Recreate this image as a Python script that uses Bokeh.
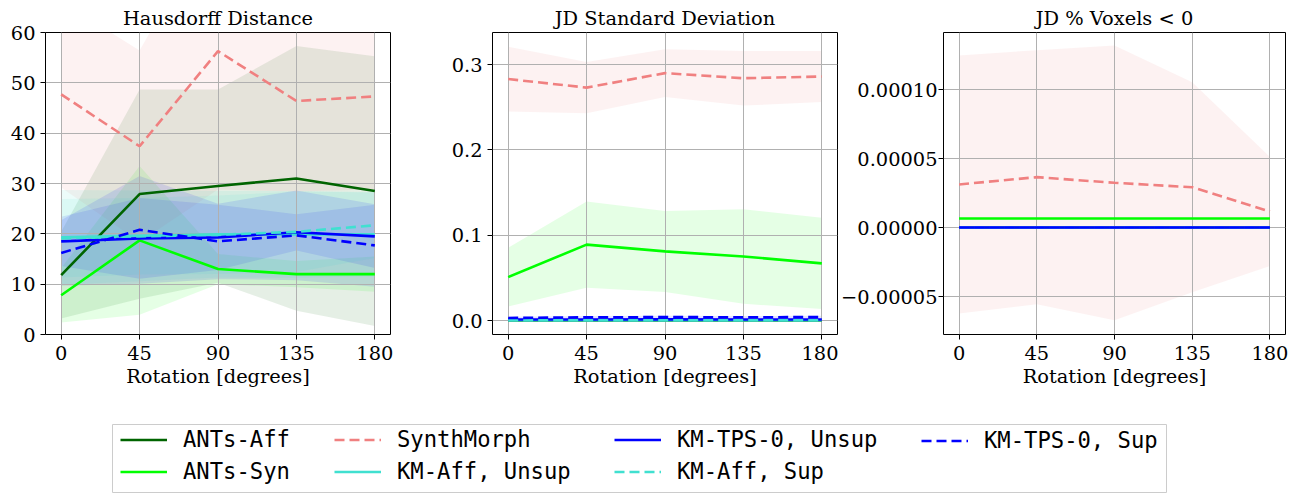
from bokeh.plotting import figure
from bokeh.models import Range1d, FixedTicker, CustomJSTickFormatter, Legend, LegendItem
from bokeh.layouts import row, column
from bokeh.embed import file_html
from bokeh.resources import INLINE

# ---------------- data ----------------
angles = [0, 45, 90, 135, 180]
x_ticks = [0, 45, 90, 135, 180]

labels = ["ANTs-Aff", "ANTs-Syn", "SynthMorph", "KM-Aff, Unsup",
          "KM-TPS-0, Unsup", "KM-Aff, Sup", "KM-TPS-0, Sup"]
colors = ["#006400", "#00ff00", "#f08080", "#40e0d0", "#0000ff", "#40e0d0", "#0000ff"]
dashed = [False, False, True, False, False, True, True]

# Hausdorff distance (mean, std)
hd_ants_aff = [11.8, 27.9, 29.5, 31.0, 28.5]
hd_ants_aff_sd = [8.6, 20.8, 19.2, 26.3, 26.8]
hd_ants_syn = [7.8, 18.7, 13.0, 12.0, 12.0]
hd_ants_syn_sd = [5.4, 14.8, 3.0, 2.6, 3.5]
hd_synth = [47.7, 37.4, 56.3, 46.4, 47.3]
hd_synth_sd = [18.5, 19.0, 27.5, 18.0, 18.5]
hd_kmaff_unsup = [19.3, 19.6, 19.9, 19.9, 19.9]
hd_kmaff_unsup_sd = [9.4, 9.0, 8.6, 8.6, 8.4]
hd_kmtps_unsup = [18.5, 19.1, 19.3, 20.3, 19.5]
hd_kmtps_unsup_sd = [4.9, 8.0, 6.5, 3.6, 6.3]
hd_kmaff_sup = [19.1, 19.5, 19.8, 20.4, 21.7]
hd_kmaff_sup_sd = [7.8, 7.6, 7.8, 8.0, 6.5]
hd_kmtps_sup = [16.2, 20.8, 18.5, 19.7, 17.7]
hd_kmtps_sup_sd = [6.5, 10.7, 7.5, 8.9, 8.2]

# JD standard deviation (mean, std)
jd_ants_aff = [0.0, 0.0, 0.0, 0.0, 0.0]
jd_ants_aff_sd = [0.0, 0.0, 0.0, 0.0, 0.0]
jd_ants_syn = [0.0508, 0.089, 0.081, 0.075, 0.067]
jd_ants_syn_sd = [0.0345, 0.0505, 0.0475, 0.0555, 0.0535]
jd_synth = [0.283, 0.273, 0.290, 0.284, 0.286]
jd_synth_sd = [0.038, 0.030, 0.028, 0.032, 0.030]
jd_kmaff_unsup = [0.0003, 0.0003, 0.0003, 0.0003, 0.0003]
jd_kmaff_unsup_sd = [0.0004, 0.0004, 0.0004, 0.0004, 0.0004]
jd_kmtps_unsup = [0.0012, 0.0012, 0.0013, 0.0012, 0.0012]
jd_kmtps_unsup_sd = [0.0010, 0.0010, 0.0010, 0.0010, 0.0010]
jd_kmaff_sup = [0.0003, 0.0003, 0.0003, 0.0003, 0.0003]
jd_kmaff_sup_sd = [0.0004, 0.0004, 0.0004, 0.0004, 0.0004]
jd_kmtps_sup = [0.0030, 0.0037, 0.0040, 0.0038, 0.0040]
jd_kmtps_sup_sd = [0.0015, 0.0015, 0.0015, 0.0015, 0.0015]

# JD % voxels < 0 (mean, std)
neg_ants_aff = [0.0, 0.0, 0.0, 0.0, 0.0]
neg_ants_aff_sd = [0.0, 0.0, 0.0, 0.0, 0.0]
neg_ants_syn = [6.5e-6, 6.5e-6, 6.5e-6, 6.5e-6, 6.5e-6]
neg_ants_syn_sd = [0.0, 0.0, 0.0, 0.0, 0.0]
neg_synth = [3.12e-5, 3.65e-5, 3.24e-5, 2.92e-5, 1.16e-5]
neg_synth_sd = [9.35e-5, 9.2e-5, 9.95e-5, 7.6e-5, 3.95e-5]
neg_kmaff_unsup = [0.0, 0.0, 0.0, 0.0, 0.0]
neg_kmaff_unsup_sd = [0.0, 0.0, 0.0, 0.0, 0.0]
neg_kmtps_unsup = [0.0, 0.0, 0.0, 0.0, 0.0]
neg_kmtps_unsup_sd = [0.0, 0.0, 0.0, 0.0, 0.0]
neg_kmaff_sup = [0.0, 0.0, 0.0, 0.0, 0.0]
neg_kmaff_sup_sd = [0.0, 0.0, 0.0, 0.0, 0.0]
neg_kmtps_sup = [0.0, 0.0, 0.0, 0.0, 0.0]
neg_kmtps_sup_sd = [0.0, 0.0, 0.0, 0.0, 0.0]

hd_means = [hd_ants_aff, hd_ants_syn, hd_synth, hd_kmaff_unsup, hd_kmtps_unsup, hd_kmaff_sup, hd_kmtps_sup]
hd_sds = [hd_ants_aff_sd, hd_ants_syn_sd, hd_synth_sd, hd_kmaff_unsup_sd, hd_kmtps_unsup_sd, hd_kmaff_sup_sd, hd_kmtps_sup_sd]
jd_means = [jd_ants_aff, jd_ants_syn, jd_synth, jd_kmaff_unsup, jd_kmtps_unsup, jd_kmaff_sup, jd_kmtps_sup]
jd_sds = [jd_ants_aff_sd, jd_ants_syn_sd, jd_synth_sd, jd_kmaff_unsup_sd, jd_kmtps_unsup_sd, jd_kmaff_sup_sd, jd_kmtps_sup_sd]
neg_means = [neg_ants_aff, neg_ants_syn, neg_synth, neg_kmaff_unsup, neg_kmtps_unsup, neg_kmaff_sup, neg_kmtps_sup]
neg_sds = [neg_ants_aff_sd, neg_ants_syn_sd, neg_synth_sd, neg_kmaff_unsup_sd, neg_kmtps_unsup_sd, neg_kmaff_sup_sd, neg_kmtps_sup_sd]

SERIF = "DejaVu Serif"
FS = "19.4px"
LW = 2.6
DASH = "10 5"


def make_panel(title, means, sds, y_rng, y_ticks, digits, bl, br, ystand=5, fw=345):
    p = figure(frame_width=fw, frame_height=302,
               x_range=Range1d(-9, 189), y_range=Range1d(*y_rng),
               toolbar_location=None, output_backend="svg",
               min_border_left=bl, min_border_right=br,
               min_border_top=32, min_border_bottom=60)
    p.title.text = title
    p.title.text_font = SERIF
    p.title.text_font_size = FS
    p.title.text_font_style = "normal"
    p.title.text_color = "black"
    p.title.align = "center"
    p.title.standoff = 6
    p.outline_line_color = "black"
    p.outline_line_width = 1
    p.outline_line_alpha = 1

    for ax in (p.xaxis[0], p.yaxis[0]):
        ax.major_label_text_font = SERIF
        ax.major_label_text_font_size = FS
        ax.major_label_text_color = "black"
        ax.axis_line_color = None
        ax.major_tick_line_color = "black"
        ax.major_tick_out = 5
        ax.major_tick_in = 0
        ax.minor_tick_line_color = None
    p.xaxis.major_label_standoff = 6
    p.yaxis.major_label_standoff = ystand
    p.xaxis.ticker = FixedTicker(ticks=x_ticks)
    p.yaxis.ticker = FixedTicker(ticks=y_ticks)
    p.xaxis.formatter = CustomJSTickFormatter(code="return tick.toFixed(0);")
    p.yaxis.formatter = CustomJSTickFormatter(
        code="return (tick < -1e-12 ? '\\u2212' : '') + Math.abs(tick).toFixed(%d);" % digits)
    p.xaxis.axis_label = "Rotation [degrees]"
    p.xaxis.axis_label_text_font = SERIF
    p.xaxis.axis_label_text_font_size = FS
    p.xaxis.axis_label_text_font_style = "normal"
    p.xaxis.axis_label_text_color = "black"
    p.xaxis.axis_label_standoff = 2

    p.grid.grid_line_color = "#b0b0b0"
    p.grid.grid_line_width = 1
    p.xgrid.ticker = FixedTicker(ticks=x_ticks)
    p.ygrid.ticker = FixedTicker(ticks=y_ticks)

    for m, s, c in zip(means, sds, colors):
        lo = [a - b for a, b in zip(m, s)]
        hi = [a + b for a, b in zip(m, s)]
        r = p.varea(x=angles, y1=lo, y2=hi, fill_color=c, fill_alpha=0.1)
        r.level = "underlay"
    for m, c, d in zip(means, colors, dashed):
        p.line(x=angles, y=m, line_color=c, line_width=LW,
               line_dash=DASH if d else "solid")
    return p


p1 = make_panel("Hausdorff Distance", hd_means, hd_sds, (0, 60),
                [0, 10, 20, 30, 40, 50, 60], 0, 45, 40)
p2 = make_panel("JD Standard Deviation", jd_means, jd_sds, (-0.0164, 0.3376),
                [0.0, 0.1, 0.2, 0.3], 1, 62, 1)
p3 = make_panel("JD % Voxels < 0", neg_means, neg_sds, (-7.75e-5, 1.413e-4),
                [-0.00005, 0.0, 0.00005, 0.0001], 5, 102, 3, ystand=1, fw=342)

# ---------------- legend (box = frame of a small figure) ----------------
leg_fig = figure(frame_width=1055, frame_height=69,
                 x_range=Range1d(1000, 1001), y_range=Range1d(1000, 1001),
                 toolbar_location=None, output_backend="svg",
                 min_border_left=112, min_border_right=0,
                 min_border_top=30, min_border_bottom=0,
                 outline_line_color="#cccccc", outline_line_width=1,
                 x_axis_type=None, y_axis_type=None)

proxies = []
for m, c, d in zip(hd_means, colors, dashed):
    proxies.append(leg_fig.line(x=angles, y=m, line_color=c, line_width=LW,
                                line_dash=DASH if d else "solid"))

# column groups (matplotlib ncol=4, column-major filling)
groups = [[0, 1], [2, 3], [4, 5], [6]]
col_x = [8, 222, 502, 809]
for g, cx in zip(groups, col_x):
    items = [LegendItem(label=labels[i], renderers=[proxies[i]]) for i in g]
    ybot = 9 if len(g) == 2 else 40
    lg = Legend(items=items, orientation="vertical", location=(cx, ybot),
                label_text_font="DejaVu Sans Mono", label_text_font_size="22.2px",
                label_text_color="black",
                glyph_width=47, glyph_height=25, label_height=25, label_standoff=16,
                spacing=6, padding=0, margin=0,
                border_line_color=None, background_fill_alpha=0)
    leg_fig.add_layout(lg, "center")

layout = column(row(p1, p2, p3, spacing=0), leg_fig, spacing=0)

open("out.html", "w").write(file_html(layout, INLINE))
